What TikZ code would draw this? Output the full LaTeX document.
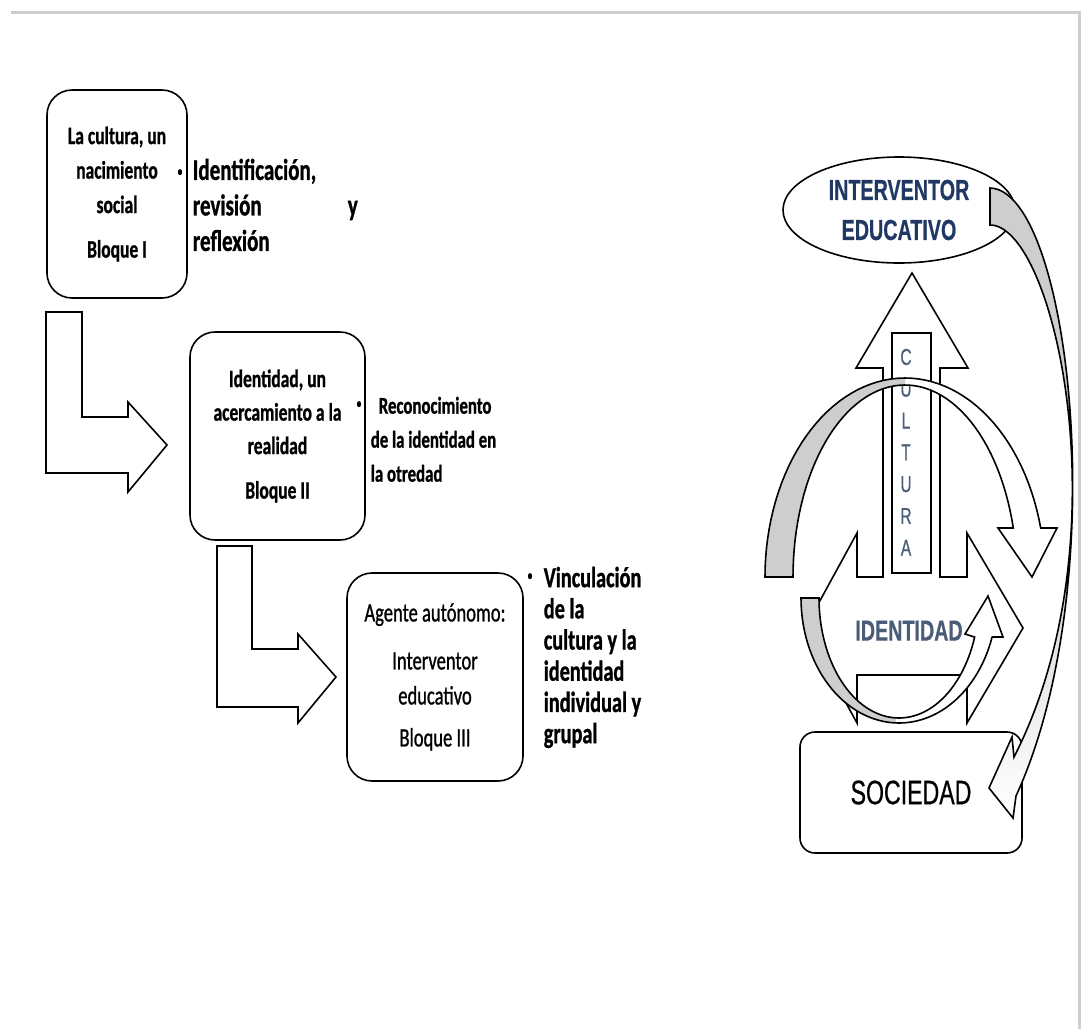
\documentclass[tikz,border=0pt]{standalone}
\usepackage{fontspec}
\setmainfont{Carlito}[FakeStretch=0.7, FakeBold=0.9]
\newfontfamily\arialn{Liberation Sans}[FakeStretch=0.68, FakeBold=0.5]
\usetikzlibrary{shapes.geometric}
\definecolor{navy}{RGB}{31,56,100}
\definecolor{slate}{RGB}{75,92,120}
\definecolor{lgray}{RGB}{206,206,206}
\definecolor{edge}{RGB}{205,205,205}

\begin{document}
\begin{tikzpicture}[x=1pt,y=-1pt,line width=1.6pt,
  bloque/.style={draw, rounded corners=25pt, align=center, inner sep=0pt},
  bala/.style={font=\fontsize{16}{16}\selectfont, inner sep=0pt},
  nota/.style={anchor=north west, align=left, inner sep=0pt}]
\useasboundingbox (0,0) rectangle (1082,1029);
\draw[edge, line width=3pt] (11,12) -- (1079,12) -- (1079,1029);

% bloques
\node[bloque, minimum width=140pt, minimum height=208pt, font=\bfseries\fontsize{25}{34.5}\selectfont] (b1) at (117,194) {La cultura, un\\nacimiento\\social\\[10pt]Bloque I};
\node[bloque, minimum width=175pt, minimum height=208pt, font=\bfseries\fontsize{25}{33.5}\selectfont] (b2) at (277.5,436) {Identidad, un\\acercamiento a la\\realidad\\[11pt]Bloque II};
\node[bloque, minimum width=176pt, minimum height=208pt, font=\fontsize{26.5}{35}\selectfont] (b3) at (435,677) {Agente autónomo:\\[13pt]Interventor\\educativo\\[7pt]Bloque III};

\draw (46,312) -- (82,312) -- (82,417) -- (128,417) -- (128,402) -- (167,445) -- (128,492) -- (128,473) -- (46,473) -- cycle;
\draw (217,546) -- (252,546) -- (252,649) -- (298,649) -- (298,634) -- (336,677) -- (298,723) -- (298,707) -- (217,707) -- cycle;

% notas
\node[bala] (p1) at (180,173) {•};
\node[nota, text width=165pt, font=\bfseries\fontsize{30}{35.5}\selectfont] (n1) at (192,158) {Identificación,\\revisión\hspace{0pt plus 1filll}y\\reflexión};
\node[bala] (p2) at (359,405) {•};
\node[nota, font=\bfseries\fontsize{24}{34}\selectfont] (n2) at (370,396) {\hspace*{8pt}Reconocimiento\\de la identidad en\\la otredad};
\node[bala] (p3) at (530,577) {•};
\node[nota, font=\bfseries\fontsize{29}{31.2}\selectfont] (n3) at (543,566) {Vinculación\\de la\\cultura y la\\identidad\\individual y\\grupal};

% esquema derecho
\node[ellipse, draw, fill=white, minimum width=232pt, minimum height=106pt, inner sep=0pt, align=center, text=navy, font=\arialn\bfseries\fontsize{29}{40}\selectfont] (interv) at (899,210) {INTERVENTOR\\EDUCATIVO};

\draw[fill=white] (912,273) -- (968,368) -- (940,368) -- (940,577) -- (967,577) -- (967,533) -- (1023,628) -- (967,723) -- (967,675) -- (857,675) -- (857,723) -- (805,628) -- (857,533) -- (857,577) -- (883,577) -- (883,368) -- (856,368) -- cycle;
\node[draw, fill=white, minimum width=39pt, minimum height=240pt, inner sep=0pt] (cult) at (911.5,453) {};
\foreach \letra [count=\i] in {C,U,L,T,U,R,A}
  \node[text=slate, font=\arialn\fontsize{23}{23}\selectfont] (cul\i) at (906,{357+31.8*(\i-1)}) {\letra};

\def\arcosup{plot[domain=180:14.25,samples=60] ({905+140*cos(\x)},{577-199*sin(\x)}) -- (1057,528) -- (1032,577) -- (998,528) -- plot[domain=14.78:180,samples=60] ({905+112*cos(\x)},{577-192*sin(\x)}) -- cycle}
\fill[white] \arcosup;
\fill[lgray] plot[domain=180:90,samples=40] ({905+140*cos(\x)},{577-199*sin(\x)}) -- plot[domain=90:180,samples=40] ({905+112*cos(\x)},{577-192*sin(\x)}) -- cycle;
\draw \arcosup;

\def\arcoinf{plot[domain=180:341.8,samples=60] ({899+98*cos(\x)},{598-125*sin(\x)}) -- (1003,637) -- (988,596) -- (965,634) -- plot[domain=341:180,samples=60] ({899+80*cos(\x)},{598-120*sin(\x)}) -- cycle}
\fill[white] \arcoinf;
\fill[lgray] plot[domain=180:268,samples=40] ({899+98*cos(\x)},{598-125*sin(\x)}) -- plot[domain=268:180,samples=40] ({899+80*cos(\x)},{598-120*sin(\x)}) -- cycle;
\draw \arcoinf;

\node[text=slate, font=\arialn\bfseries\fontsize{29}{29}\selectfont] (ident) at (909,630.6) {IDENTIDAD};

\node[draw, fill=white, rounded corners=15pt, minimum width=222pt, minimum height=121pt, font=\arialn\fontsize{34}{34}\selectfont] (soc) at (911,792.5) {SOCIEDAD};

\draw[top color=lgray, bottom color=white, middle color=lgray] (990,188) .. controls (1070,190) and (1115,580) .. (1016,796) -- (1013,818) -- (989,788) -- (1012,737) -- (1014,757) .. controls (1125,540) and (1055,225) .. (990,225) -- cycle;
\end{tikzpicture}
\end{document}
